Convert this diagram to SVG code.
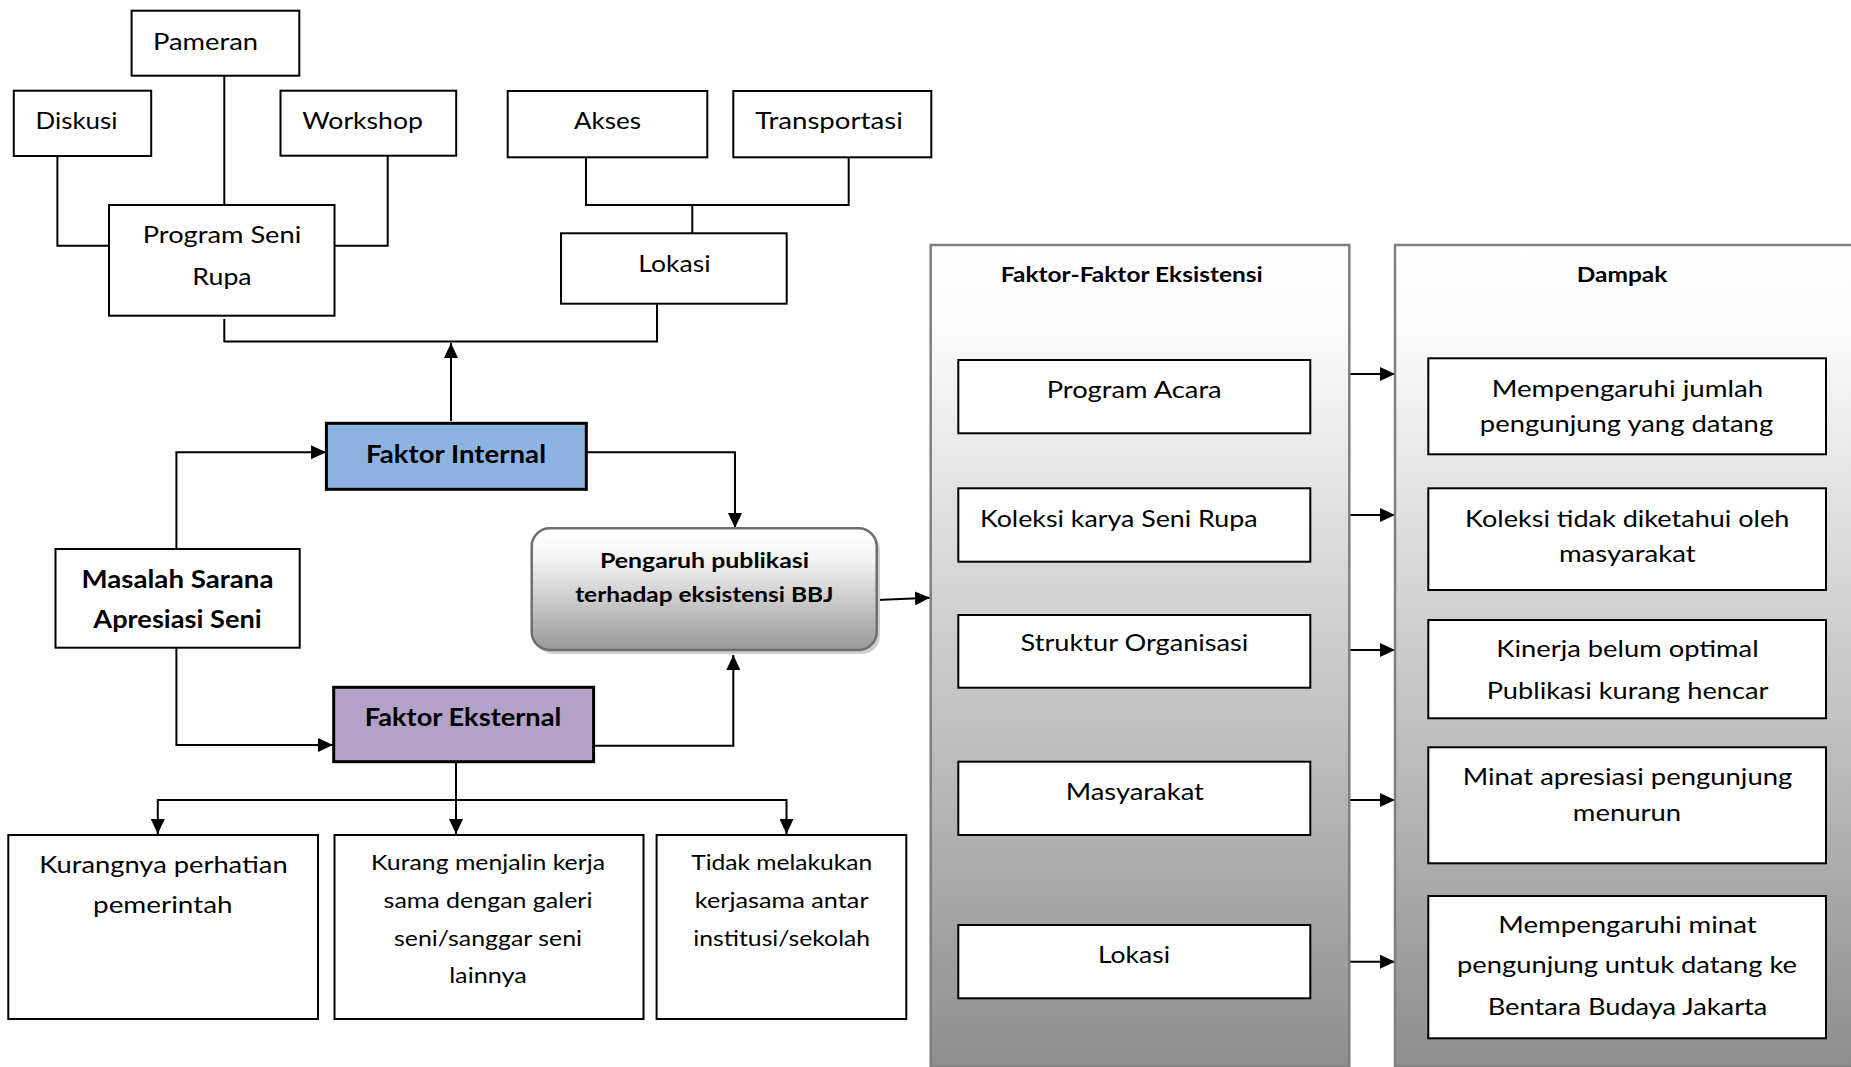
<svg xmlns="http://www.w3.org/2000/svg" width="1851" height="1067" viewBox="0 0 1851 1067">
<style>
.box{fill:#fff;stroke:#000;stroke-width:2}
.ln{fill:none;stroke:#000;stroke-width:2}
.arr{fill:none;stroke:#000;stroke-width:2;marker-end:url(#ah)}
.t{font-family:Lato,"Liberation Sans",sans-serif;font-size:23px;fill:#000;text-anchor:middle}
.tp{font-size:24px}
.s{font-size:22px}
.h{font-size:21.5px}
.b{font-weight:bold}
.bf{font-size:25px}
.panel{stroke:#7f7f7f;stroke-width:2.5;fill:url(#pg)}
</style>
<defs>
<marker id="ah" markerUnits="userSpaceOnUse" markerWidth="15" markerHeight="14" refX="15" refY="7" orient="auto">
<path d="M0,0 L15,7 L0,14 z" fill="#000"/>
</marker>
<linearGradient id="pg" x1="0" y1="0" x2="0" y2="1">
<stop offset="0" stop-color="#ffffff"/>
<stop offset="0.1" stop-color="#fbfbfb"/>
<stop offset="1" stop-color="#8e8e8e"/>
</linearGradient>
<linearGradient id="rg" x1="0" y1="0" x2="0" y2="1">
<stop offset="0" stop-color="#ffffff"/>
<stop offset="0.25" stop-color="#f4f4f4"/>
<stop offset="1" stop-color="#999999"/>
</linearGradient>
</defs>
<rect width="1851" height="1067" fill="#fff"/>

<g id="connectors">
<path class="ln" d="M57.4,156 V245.7 H109"/>
<path class="ln" d="M224.3,75.7 V205"/>
<path class="ln" d="M387.7,156 V245.7 H334.5"/>
<path class="ln" d="M586,157.3 V205 H848.7 V157.3"/>
<path class="ln" d="M692.3,205 V233.3"/>
<path class="ln" d="M224.3,319 V341.5 H657 V303.7"/>
<path class="arr" d="M451,421 V343"/>
<path class="arr" d="M176.4,549 V452.3 H326"/>
<path class="arr" d="M176.4,647.7 V745 H333"/>
<path class="arr" d="M586,452.3 H735 V528"/>
<path class="arr" d="M593.6,745.7 H733.3 V655"/>
<path class="arr" d="M877,600 L930,597.7"/>
<path class="arr" d="M456,761.7 V834"/>
<path class="arr" d="M456,800 H157.8 V834"/>
<path class="arr" d="M456,800 H786.5 V834"/>
<path class="arr" d="M1349,374 H1395"/>
<path class="arr" d="M1349,515 H1395"/>
<path class="arr" d="M1349,650 H1395"/>
<path class="arr" d="M1349,800 H1395"/>
<path class="arr" d="M1349,961.7 H1395"/>
</g>

<g id="pameran"><rect class="box" x="131.6" y="10.7" width="167.7" height="65"/><text class="t tp" x="205.5" y="50" textLength="105" lengthAdjust="spacingAndGlyphs">Pameran</text></g>
<g id="diskusi"><rect class="box" x="13.8" y="90.7" width="137.4" height="65.3"/><text class="t tp" x="76.5" y="129" textLength="82" lengthAdjust="spacingAndGlyphs">Diskusi</text></g>
<g id="workshop"><rect class="box" x="280.5" y="90.7" width="175.7" height="65"/><text class="t tp" x="362.6" y="129" textLength="120.6" lengthAdjust="spacingAndGlyphs">Workshop</text></g>
<g id="program-seni-rupa"><rect class="box" x="109" y="205" width="225.5" height="110.7"/><text class="t tp" x="222" y="242.7" textLength="158.5" lengthAdjust="spacingAndGlyphs">Program Seni</text><text class="t tp" x="222" y="285" textLength="59.3" lengthAdjust="spacingAndGlyphs">Rupa</text></g>
<g id="akses"><rect class="box" x="507.7" y="91" width="199.6" height="66.3"/><text class="t tp" x="607.5" y="129" textLength="67" lengthAdjust="spacingAndGlyphs">Akses</text></g>
<g id="transportasi"><rect class="box" x="733.3" y="91" width="198" height="66.3"/><text class="t tp" x="829" y="129" textLength="147.7" lengthAdjust="spacingAndGlyphs">Transportasi</text></g>
<g id="lokasi-top"><rect class="box" x="561" y="233.3" width="225.7" height="70.4"/><text class="t tp" x="674.5" y="271.7" textLength="72.3" lengthAdjust="spacingAndGlyphs">Lokasi</text></g>

<g id="faktor-internal"><rect x="326.4" y="423.3" width="259.9" height="66" fill="#8db3e2" stroke="#000" stroke-width="3"/><text class="t b bf" x="456" y="463.3" textLength="180" lengthAdjust="spacingAndGlyphs">Faktor Internal</text></g>
<g id="masalah"><rect class="box" x="55.5" y="549" width="244.2" height="98.7"/><text class="t b tp" x="177.5" y="587.7" textLength="192" lengthAdjust="spacingAndGlyphs">Masalah Sarana</text><text class="t b tp" x="177.5" y="628.3" textLength="168.4" lengthAdjust="spacingAndGlyphs">Apresiasi Seni</text></g>
<g id="faktor-eksternal"><rect x="333.7" y="687.3" width="259.9" height="74.4" fill="#b2a2c7" stroke="#000" stroke-width="3"/><text class="t b bf" x="463" y="726" textLength="196.7" lengthAdjust="spacingAndGlyphs">Faktor Eksternal</text></g>

<g id="pengaruh">
<rect x="535" y="532" width="345" height="122" rx="18" fill="#cfcfcf"/>
<rect x="531.7" y="528.3" width="345" height="121.7" rx="18" fill="url(#rg)" stroke="#6e6e6e" stroke-width="2.5"/>
<text class="t b h" x="704.5" y="568.3" textLength="209" lengthAdjust="spacingAndGlyphs">Pengaruh publikasi</text>
<text class="t b h" x="704.3" y="601.7" textLength="258.3" lengthAdjust="spacingAndGlyphs">terhadap eksistensi BBJ</text>
</g>

<g id="kurangnya"><rect class="box" x="8.3" y="835" width="309.7" height="184"/><text class="t" x="163.4" y="873.3" textLength="248.5" lengthAdjust="spacingAndGlyphs">Kurangnya perhatian</text><text class="t" x="162.8" y="913.3" textLength="139.5" lengthAdjust="spacingAndGlyphs">pemerintah</text></g>
<g id="kurang-menjalin"><rect class="box" x="334.5" y="835" width="309" height="184"/><text class="t s" x="488" y="870" textLength="234" lengthAdjust="spacingAndGlyphs">Kurang menjalin kerja</text><text class="t s" x="488" y="908.3" textLength="208.8" lengthAdjust="spacingAndGlyphs">sama dengan galeri</text><text class="t s" x="488" y="945.7" textLength="188" lengthAdjust="spacingAndGlyphs">seni/sanggar seni</text><text class="t s" x="488" y="982.7" textLength="77.7" lengthAdjust="spacingAndGlyphs">lainnya</text></g>
<g id="tidak-melakukan"><rect class="box" x="656.6" y="835" width="249.7" height="184"/><text class="t s" x="781.7" y="870" textLength="181" lengthAdjust="spacingAndGlyphs">Tidak melakukan</text><text class="t s" x="781.7" y="908.3" textLength="173.8" lengthAdjust="spacingAndGlyphs">kerjasama antar</text><text class="t s" x="781.7" y="945.7" textLength="176.7" lengthAdjust="spacingAndGlyphs">institusi/sekolah</text></g>

<g id="faktor-eksistensi">
<rect class="panel" x="930.7" y="245" width="418.6" height="822"/>
<text class="t b h" x="1131.8" y="281.7" textLength="262" lengthAdjust="spacingAndGlyphs">Faktor-Faktor Eksistensi</text>
</g>
<g id="program-acara"><rect class="box" x="958.3" y="360" width="352" height="73.3"/><text class="t" x="1134.2" y="398.3" textLength="175" lengthAdjust="spacingAndGlyphs">Program Acara</text></g>
<g id="koleksi-karya"><rect class="box" x="958.3" y="488.3" width="352" height="73.4"/><text class="t" x="1118.8" y="526.7" textLength="277.7" lengthAdjust="spacingAndGlyphs">Koleksi karya Seni Rupa</text></g>
<g id="struktur"><rect class="box" x="958.3" y="615" width="352" height="72.7"/><text class="t" x="1134.5" y="651" textLength="227.8" lengthAdjust="spacingAndGlyphs">Struktur Organisasi</text></g>
<g id="masyarakat"><rect class="box" x="958.3" y="761.7" width="352" height="73.3"/><text class="t" x="1134.8" y="800" textLength="138.3" lengthAdjust="spacingAndGlyphs">Masyarakat</text></g>
<g id="lokasi"><rect class="box" x="958.3" y="925" width="352" height="73.3"/><text class="t" x="1134" y="963.3" textLength="72" lengthAdjust="spacingAndGlyphs">Lokasi</text></g>

<g id="dampak">
<rect class="panel" x="1395" y="245" width="470" height="822"/>
<text class="t b h" x="1622" y="281.7" textLength="90.7" lengthAdjust="spacingAndGlyphs">Dampak</text>
</g>
<g id="dampak-1"><rect class="box" x="1428.3" y="358.3" width="397.7" height="96"/><text class="t" x="1627.5" y="396.7" textLength="271.6" lengthAdjust="spacingAndGlyphs">Mempengaruhi jumlah</text><text class="t" x="1626.5" y="431.7" textLength="293.3" lengthAdjust="spacingAndGlyphs">pengunjung yang datang</text></g>
<g id="dampak-2"><rect class="box" x="1428.3" y="488.3" width="397.7" height="101.7"/><text class="t" x="1627.2" y="526.7" textLength="324.3" lengthAdjust="spacingAndGlyphs">Koleksi tidak diketahui oleh</text><text class="t" x="1627.3" y="561.7" textLength="136.7" lengthAdjust="spacingAndGlyphs">masyarakat</text></g>
<g id="dampak-3"><rect class="box" x="1428.3" y="620" width="397.7" height="98.3"/><text class="t" x="1627.5" y="656.7" textLength="262.3" lengthAdjust="spacingAndGlyphs">Kinerja belum optimal</text><text class="t" x="1627.5" y="699.3" textLength="281.7" lengthAdjust="spacingAndGlyphs">Publikasi kurang hencar</text></g>
<g id="dampak-4"><rect class="box" x="1428.3" y="747.3" width="397.7" height="116"/><text class="t" x="1627.5" y="785" textLength="329.7" lengthAdjust="spacingAndGlyphs">Minat apresiasi pengunjung</text><text class="t" x="1627" y="821" textLength="108.3" lengthAdjust="spacingAndGlyphs">menurun</text></g>
<g id="dampak-5"><rect class="box" x="1428.3" y="896" width="397.7" height="142.3"/><text class="t" x="1627.5" y="933.3" textLength="258.3" lengthAdjust="spacingAndGlyphs">Mempengaruhi minat</text><text class="t" x="1627" y="973.3" textLength="340" lengthAdjust="spacingAndGlyphs">pengunjung untuk datang ke</text><text class="t" x="1627.5" y="1015" textLength="279.7" lengthAdjust="spacingAndGlyphs">Bentara Budaya Jakarta</text></g>
</svg>
